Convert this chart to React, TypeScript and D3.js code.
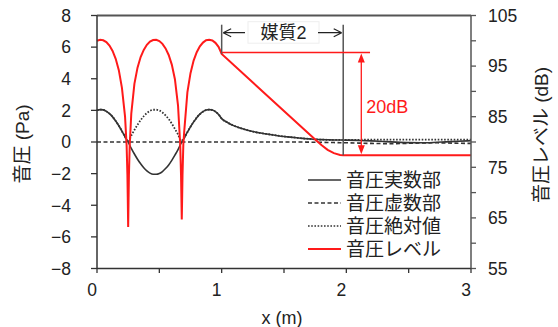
import React from 'react';
import * as d3 from 'd3';

// sample positions (m) for the black curves
const sampleX = [
  0, 0.025, 0.05, 0.075, 0.1, 0.125, 0.15, 0.175, 0.2, 0.225,
  0.25, 0.275, 0.3, 0.325, 0.35, 0.375, 0.4, 0.425, 0.45, 0.475,
  0.5, 0.525, 0.55, 0.575, 0.6, 0.625, 0.65, 0.675, 0.7, 0.725,
  0.75, 0.775, 0.8, 0.825, 0.85, 0.875, 0.9, 0.925, 0.95, 0.975,
  1.0, 1.05, 1.1, 1.15, 1.2, 1.25, 1.3, 1.35, 1.4, 1.45,
  1.5, 1.55, 1.6, 1.65, 1.7, 1.75, 1.8, 1.85, 1.9, 1.95,
  2.0, 2.1, 2.2, 2.3, 2.4, 2.5, 2.6, 2.7, 2.8, 2.9, 3.0,
];
const realPart = [
  2.0, 2.05, 2.03, 1.94, 1.79, 1.59, 1.33, 1.03, 0.69, 0.33,
  -0.01, -0.4, -0.76, -1.09, -1.38, -1.63, -1.83, -1.97, -2.04, -2.04,
  -1.99, -1.87, -1.68, -1.45, -1.16, -0.83, -0.48, -0.07, 0.26, 0.62,
  0.96, 1.27, 1.54, 1.76, 1.92, 2.02, 2.05, 2.02, 1.92, 1.74,
  1.48, 1.22, 1.02, 0.88, 0.76, 0.66, 0.58, 0.52, 0.46, 0.4,
  0.35, 0.31, 0.27, 0.23, 0.2, 0.17, 0.15, 0.14, 0.13, 0.125,
  0.12, 0.1, 0.07, 0.03, -0.01, -0.04, -0.05, -0.03, 0.01, 0.05, 0.08,
];
const imagPart = [
  0, 0, 0, 0, 0, 0, 0, 0, 0, 0,
  0, 0, 0, 0, 0, 0, 0, 0, 0, 0,
  0, 0, 0, 0, 0, 0, 0, 0, 0, 0,
  0, 0, 0, 0, 0, 0, 0, 0, 0, 0,
  0, 0, 0, 0, 0, 0, 0, 0, 0, 0,
  0, 0, 0, 0, -0.01, -0.015, -0.02, -0.03, -0.035, -0.045,
  -0.05, -0.07, -0.09, -0.1, -0.1, -0.08, -0.06, -0.05, -0.06, -0.08, -0.09,
];
const absValue = [
  2.0, 2.05, 2.03, 1.94, 1.79, 1.59, 1.33, 1.03, 0.69, 0.33,
  0.01, 0.4, 0.76, 1.09, 1.38, 1.63, 1.83, 1.97, 2.04, 2.04,
  1.99, 1.87, 1.68, 1.45, 1.16, 0.83, 0.48, 0.07, 0.26, 0.62,
  0.96, 1.27, 1.54, 1.76, 1.92, 2.02, 2.05, 2.02, 1.92, 1.74,
  1.48, 1.22, 1.02, 0.88, 0.76, 0.66, 0.58, 0.52, 0.46, 0.4,
  0.35, 0.31, 0.27, 0.23, 0.2, 0.17, 0.15, 0.14, 0.135, 0.13,
  0.13, 0.14, 0.15, 0.15, 0.15, 0.15, 0.15, 0.15, 0.15, 0.15, 0.15,
];

// sound pressure level (dB)
const levelX = [
  0, 0.025, 0.05, 0.075, 0.1, 0.125, 0.15, 0.175, 0.2, 0.225,
  0.2375, 0.244, 0.247, 0.25, 0.253, 0.256, 0.2625, 0.275, 0.3, 0.325,
  0.35, 0.375, 0.4, 0.425, 0.45, 0.475, 0.5, 0.525, 0.55, 0.575,
  0.6, 0.625, 0.65, 0.6675, 0.674, 0.677, 0.68, 0.683, 0.686, 0.6925,
  0.7, 0.725, 0.75, 0.775, 0.8, 0.825, 0.85, 0.875, 0.9, 0.925,
  0.95, 0.975, 1.0, 1.75, 1.8, 1.85, 1.9, 1.95, 1.975, 3.0,
];
const levelDb = [
  100.0, 100.2, 100.1, 99.75, 99.05, 98.0, 96.45, 94.2, 90.7, 85.0,
  79.4, 73.4, 68.5, 63.2, 68.5, 73.4, 79.4, 85.6, 91.5, 94.7,
  96.8, 98.2, 99.2, 99.85, 100.15, 100.2, 99.95, 99.4, 98.5, 97.2,
  95.3, 92.4, 87.2, 79.5, 73.6, 69.0, 64.7, 69.0, 73.6, 79.5,
  82.2, 89.8, 93.6, 96.1, 97.75, 98.9, 99.65, 100.1, 100.2, 100.05,
  99.6, 98.8, 97.4, 80.5, 79.4, 78.45, 77.8, 77.45, 77.4, 77.4,
];

const paTicks = [-8, -6, -4, -2, 0, 2, 4, 6, 8];
const dbTicks = [55, 60, 65, 70, 75, 80, 85, 90, 95, 100, 105];
const dbLabels = [55, 65, 75, 85, 95, 105];
const xTicks = [0, 0.5, 1, 1.5, 2, 2.5, 3];
const xLabels = [0, 1, 2, 3];
const legendNames = ['音圧実数部', '音圧虚数部', '音圧絶対値', '音圧レベル'];

// annotation values
const mediumStart = 1;
const mediumEnd = 1.975;
const levelTop = 97.7;
const levelBottom = 77.4;
const levelKink = 97.4;
const arrowAt = 2.12;
const levelLineEnd = 2.19;

const W = 558;
const H = 327;
const FONT = "'Liberation Sans', 'Noto Sans CJK JP', sans-serif";
const BLACK = '#333';
const RED = '#ff1a1a';

const App = () => {
  const x = d3.scaleLinear().domain([0, 3]).range([97, 471]);
  const yPa = d3.scaleLinear().domain([-8, 8]).range([268.5, 15.5]);
  const yDb = d3.scaleLinear().domain([55, 105]).range([268.5, 15.5]);

  const blackLine = (vals: number[]) =>
    d3.line<number>()
      .x((_, i) => x(sampleX[i]))
      .y((v) => yPa(v))
      .curve(d3.curveMonotoneX)(vals) as string;

  const redLine = d3.line<number>()
    .x((_, i) => x(levelX[i]))
    .y((v) => yDb(v))(levelDb) as string;

  const styles = [
    { color: BLACK, dash: undefined },
    { color: BLACK, dash: '4,2.5' },
    { color: BLACK, dash: '1.6,1.6' },
    { color: RED, dash: undefined },
  ];

  const x0 = x(0), x3 = x(3), yT = yPa(8), yB = yPa(-8);
  const arrowY = 32.7;
  const mx1 = x(mediumStart), mx2 = x(mediumEnd);
  const ax = x(arrowAt);
  const topY = yDb(levelTop), botY = yDb(levelBottom);

  return (
    <svg width={W} height={H} style={{ position: 'absolute', left: 0, top: 0, background: '#fff' }}
      fontFamily={FONT}>
      {/* data */}
      <path d={blackLine(imagPart)} fill="none" stroke={BLACK} strokeWidth={1.6} strokeDasharray="4,2.5" />
      <path d={blackLine(absValue)} fill="none" stroke={BLACK} strokeWidth={1.8} strokeDasharray="1.6,1.6" />
      <path d={blackLine(realPart)} fill="none" stroke={BLACK} strokeWidth={1.6} />
      <path d={redLine} fill="none" stroke={RED} strokeWidth={2} />

      {/* annotations */}
      <line x1={mx1} x2={mx1} y1={24.7} y2={yDb(levelKink)} stroke="#555" strokeWidth={1.5} />
      <line x1={mx2} x2={mx2} y1={24.7} y2={botY} stroke="#555" strokeWidth={1.5} />
      <rect x={248} y={21.7} width={71} height={21.5} fill="#fff" stroke="#eee" />
      <text x={283.5} y={arrowY} dy="0.36em" textAnchor="middle" fontSize={18} fill="#222">媒質2</text>
      <path d={`M${mx1 + 1.5},${arrowY}H245M${mx1 + 1.5},${arrowY}l8,-4M${mx1 + 1.5},${arrowY}l8,4`}
        fill="none" stroke="#222" strokeWidth={1.2} />
      <path d={`M${mx2 - 1.5},${arrowY}H318M${mx2 - 1.5},${arrowY}l-8,-4M${mx2 - 1.5},${arrowY}l-8,4`}
        fill="none" stroke="#222" strokeWidth={1.2} />
      <line x1={mx1} x2={x(levelLineEnd)} y1={topY} y2={topY} stroke={RED} strokeWidth={1.5} />
      <line x1={ax} x2={ax} y1={topY + 6} y2={botY - 6} stroke={RED} strokeWidth={1.3} />
      <path d={`M${ax},${topY + 1}l-3.5,9h7z`} fill={RED} />
      <path d={`M${ax},${botY - 1}l-3.5,-9h7z`} fill={RED} />
      <text x={ax + 5} y={113} fontSize={18} fill={RED}>20dB</text>

      {/* frame */}
      <line x1={x0} x2={x3} y1={yT} y2={yT} stroke="#555" strokeWidth={2} />
      <line x1={x0} x2={x3} y1={yB} y2={yB} stroke="#333" strokeWidth={1.5} />
      <line x1={x0} x2={x0} y1={yT} y2={yB} stroke="#333" strokeWidth={1.5} />
      <line x1={x3} x2={x3} y1={yT} y2={yB} stroke="#555" strokeWidth={1.5} />

      {/* left axis */}
      {paTicks.map((t) => (
        <g key={`p${t}`}>
          <line x1={x0 - 6} x2={x0} y1={yPa(t)} y2={yPa(t)} stroke="#333" strokeWidth={1.3} />
          <text x={71} y={yPa(t)} dy="0.36em" textAnchor="end" fontSize={17.5} fill="#222">
            {t < 0 ? `\u2212${-t}` : t}
          </text>
        </g>
      ))}
      {/* right axis */}
      {dbTicks.map((t) => (
        <line key={`d${t}`} x1={x3} x2={x3 + 5} y1={yDb(t)} y2={yDb(t)} stroke="#555" strokeWidth={1.3} />
      ))}
      {dbLabels.map((t) => (
        <text key={`dl${t}`} x={488} y={yDb(t)} dy="0.36em" fontSize={17.5} fill="#222">{t}</text>
      ))}
      {/* bottom axis */}
      {xTicks.map((t) => (
        <line key={`x${t}`} x1={x(t)} x2={x(t)} y1={yB} y2={yB + 4.5} stroke="#333" strokeWidth={1.3} />
      ))}
      {xLabels.map((t) => (
        <text key={`xl${t}`} x={x(t) - 5} y={296} textAnchor="middle" fontSize={17.5} fill="#222">{t}</text>
      ))}

      {/* axis titles */}
      <text x={282} y={324} textAnchor="middle" fontSize={18} fill="#222">x (m)</text>
      <text transform={`translate(22,144) rotate(-90)`} dy="0.36em" textAnchor="middle" fontSize={19} fill="#222">
        音圧 (Pa)
      </text>
      <text transform={`translate(541,135) rotate(-90)`} dy="0.36em" textAnchor="middle" fontSize={19} fill="#222">
        音圧レベル (dB)
      </text>

      {/* legend */}
      {legendNames.map((name, i) => {
        const ly = 180 + i * 23;
        return (
          <g key={name}>
            <line x1={308} x2={341} y1={ly} y2={ly} stroke={styles[i].color}
              strokeWidth={i === 3 ? 2 : 1.5} strokeDasharray={styles[i].dash} />
            <text x={346} y={ly} dy="0.36em" fontSize={19} fill="#222">{name}</text>
          </g>
        );
      })}
    </svg>
  );
};

export default App;
